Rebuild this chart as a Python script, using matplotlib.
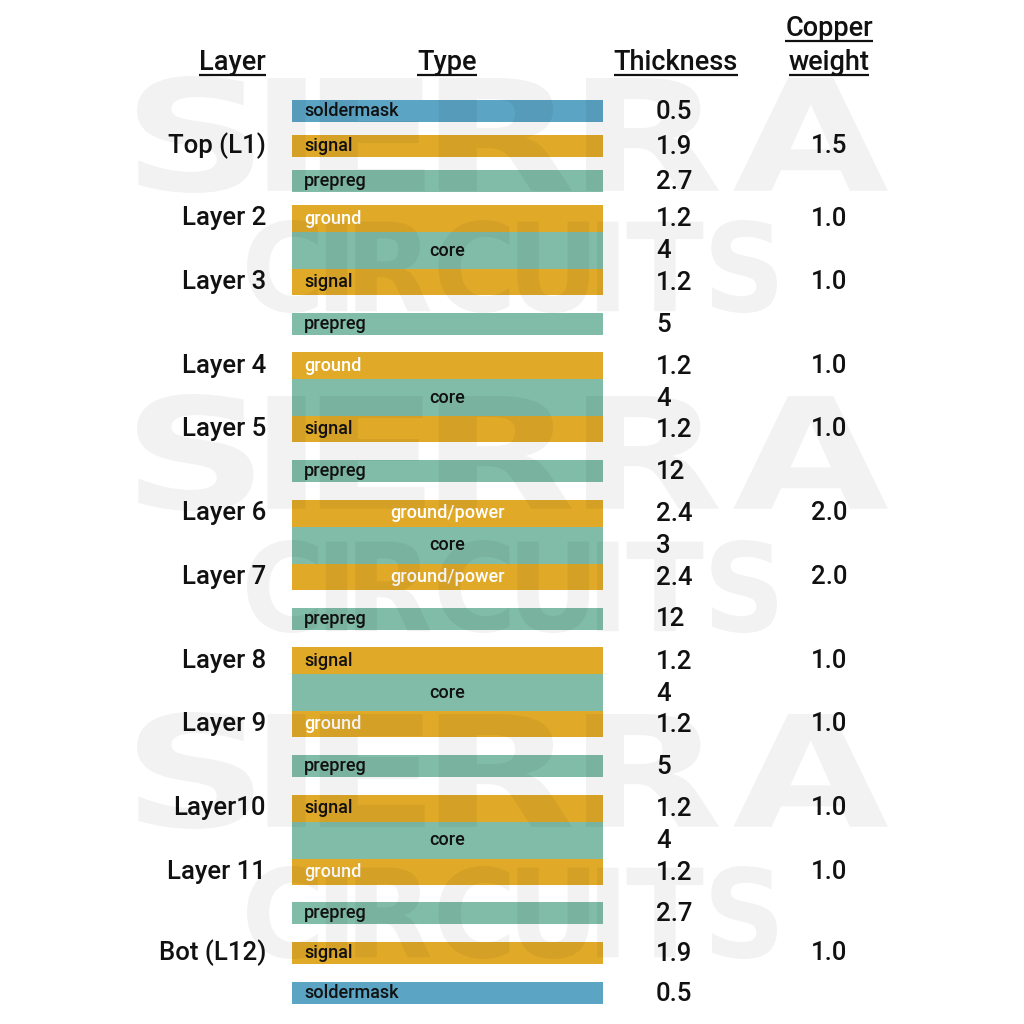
import matplotlib
matplotlib.use("Agg")
import numpy as np
import matplotlib.pyplot as plt
from matplotlib.patches import Rectangle, PathPatch
from matplotlib.textpath import TextPath
from matplotlib.font_manager import FontProperties
from matplotlib.transforms import Affine2D
from matplotlib.path import Path

plt.rcParams['font.family'] = ['Roboto', 'DejaVu Sans']
plt.rcParams['font.weight'] = 'medium'

# ---------------- data ----------------
layer_types = ['soldermask', 'signal', 'prepreg', 'ground', 'core', 'signal', 'prepreg',
               'ground', 'core', 'signal', 'prepreg', 'ground/power', 'core', 'ground/power',
               'prepreg', 'signal', 'core', 'ground', 'prepreg', 'signal', 'core', 'ground',
               'prepreg', 'signal', 'soldermask']
thickness = ['0.5', '1.9', '2.7', '1.2', '4', '1.2', '5', '1.2', '4', '1.2', '12', '2.4', '3',
             '2.4', '12', '1.2', '4', '1.2', '5', '1.2', '4', '1.2', '2.7', '1.9', '0.5']
layer_names = ['', 'Top (L1)', '', 'Layer 2', '', 'Layer 3', '', 'Layer 4', '', 'Layer 5', '',
               'Layer 6', '', 'Layer 7', '', 'Layer 8', '', 'Layer 9', '', 'Layer10', '',
               'Layer 11', '', 'Bot (L12)', '']
copper_weight = ['', '1.5', '', '1.0', '', '1.0', '', '1.0', '', '1.0', '', '2.0', '', '2.0', '',
                 '1.0', '', '1.0', '', '1.0', '', '1.0', '', '1.0', '']
headers = ['Layer', 'Type', 'Thickness', 'Copper\nweight']
watermark_words = ['SIERRA', 'CIRCUITS']

# ---------------- style ----------------
colors = {'soldermask': '#5ba4c3', 'copper': '#e0a928', 'dielectric': '#80bca8'}
white_label = {'ground', 'ground/power'}
centered_label = {'core', 'ground/power'}

fig = plt.figure(figsize=(10.24, 10.24), dpi=100)
ax = fig.add_axes([0, 0, 1, 1])
ax.set_xlim(0, 1024)
ax.set_ylim(1024, 0)
ax.axis('off')

X0, X1 = 292, 603
y = 100.0
n = len(layer_types)
TXT = '#111111'
for i, t in enumerate(layer_types):
    prev_core = i > 0 and layer_types[i - 1] == 'core'
    next_core = i < n - 1 and layer_types[i + 1] == 'core'
    if t == 'core':
        h = 37
    elif next_core:
        h = 27
    elif prev_core:
        h = 26
    else:
        h = 22
    if i > 0 and t != 'core' and not prev_core:
        y += 13 if i <= 3 else 17.7
    if t == 'soldermask':
        c = colors['soldermask']
    elif t in ('prepreg', 'core'):
        c = colors['dielectric']
    else:
        c = colors['copper']
    ax.add_patch(Rectangle((X0, y), X1 - X0, h, facecolor=c, edgecolor='none', zorder=2))
    yc = y + h / 2
    tc = 'white' if t in white_label else TXT
    if t in centered_label:
        ax.text((X0 + X1) / 2, yc, t, ha='center', va='center', fontsize=13, color=tc, zorder=3)
    else:
        ax.text(304, yc, t, ha='left', va='center', fontsize=13, color=tc, zorder=3)
    ax.text(656, yc + 1, thickness[i], ha='left', va='center', fontsize=18.5, color=TXT, zorder=3)
    if copper_weight[i]:
        ax.text(829, yc, copper_weight[i], ha='center', va='center', fontsize=18.5, color=TXT, zorder=3)
    if layer_names[i]:
        ax.text(266, yc, layer_names[i], ha='right', va='center', fontsize=18.5, color=TXT, zorder=3)
    y += h

# headers with underline
hdr_specs = [(headers[0], 266, 62, 'right'), (headers[1], 447, 62, 'center'),
             (headers[2], 676, 62, 'center')]
cw = headers[3].split('\n')
hdr_specs += [(cw[0], 829, 28, 'center'), (cw[1], 829, 62, 'center')]
htexts = []
for s, hx, hy, ha in hdr_specs:
    htexts.append(ax.text(hx, hy, s, ha=ha, va='center', fontsize=19.5, color=TXT, zorder=3))
fig.canvas.draw()
r = fig.canvas.get_renderer()
inv = ax.transData.inverted()
for tx, (s, hx, hy, ha) in zip(htexts, hdr_specs):
    bb = tx.get_window_extent(renderer=r)
    (xa, _), (xb, _) = inv.transform([(bb.x0, bb.y0), (bb.x1, bb.y0)])
    ax.plot([xa, xb], [hy + 12.5, hy + 12.5], color=TXT, lw=1.6, solid_capstyle='butt', zorder=3)


# watermark (letters packed tightly, then fitted to a box)
def _bounds(path):
    v = path.vertices
    c = path.codes
    m = np.ones(len(v), bool) if c is None else (c != Path.CLOSEPOLY) & (c != Path.STOP)
    v = v[m]
    return v[:, 0].min(), v[:, 1].min(), v[:, 0].max(), v[:, 1].max()


def watermark(word, x0, x1, ytop, ybot):
    fp = FontProperties(family='DejaVu Sans', weight='bold')
    verts, codes = [], []
    cursor = 0.0
    for ch in word:
        tp = TextPath((0, 0), ch, size=1, prop=fp)
        bx0, by0, bx1, by1 = _bounds(tp)
        shifted = Affine2D().translate(cursor - bx0, 0).transform_path(tp)
        verts.append(shifted.vertices)
        codes.append(shifted.codes)
        cursor += (bx1 - bx0) + 0.07
    full = Path(np.concatenate(verts), np.concatenate(codes))
    bx0, by0, bx1, by1 = _bounds(full)
    tr = (Affine2D().translate(-bx0, -by0)
          .scale((x1 - x0) / (bx1 - bx0), -(ybot - ytop) / (by1 - by0))
          .translate(x0, ybot))
    ax.add_patch(PathPatch(tr.transform_path(full), facecolor='black', edgecolor='none',
                           alpha=0.05, zorder=5))


for top_s, top_c in ((76, 220), (394, 540), (712, 866)):
    watermark(watermark_words[0], 137, 888, top_s, top_s + 117)
    watermark(watermark_words[1], 247, 777, top_c, top_c + 93)

fig.savefig('out.png', dpi=100, facecolor='white')
